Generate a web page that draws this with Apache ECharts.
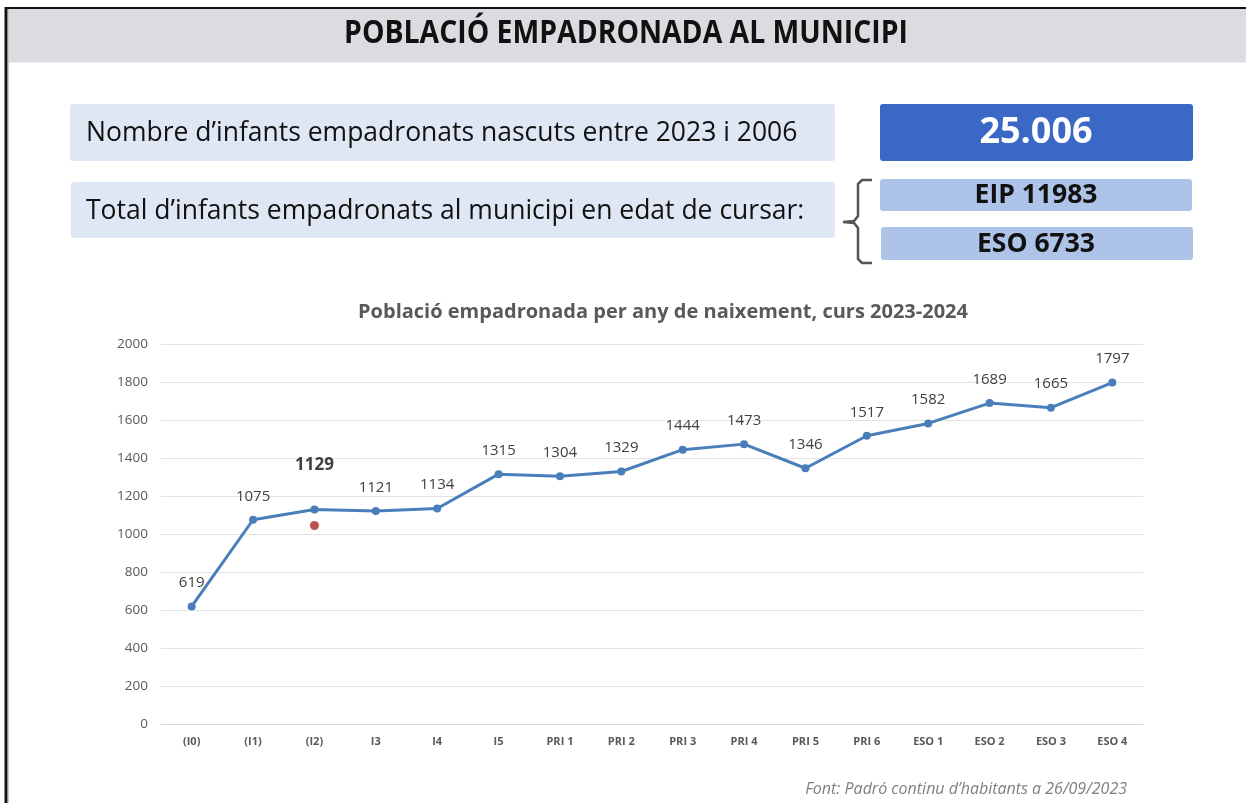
<!DOCTYPE html>
<html>
<head>
<meta charset="utf-8">
<script src="https://cdn.jsdelivr.net/npm/echarts@6/dist/echarts.min.js"></script>
<style>
html,body{margin:0;padding:0;background:#fff;}
#main{width:1246px;height:803px;}
</style>
</head>
<body>
<div id="main"></div>
<script>
var categories = ['(I0)','(I1)','(I2)','I3','I4','I5','PRI 1','PRI 2','PRI 3','PRI 4','PRI 5','PRI 6','ESO 1','ESO 2','ESO 3','ESO 4'];
var population = [619,1075,1129,1121,1134,1315,1304,1329,1444,1473,1346,1517,1582,1689,1665,1797];
var highlightIndex = 2;
var redMarker = [null,null,1045,null,null,null,null,null,null,null,null,null,null,null,null,null];
var yTicks = {min:0, max:2000, interval:200};

var headerTitle = 'POBLACIÓ EMPADRONADA AL MUNICIPI';
var box1Text = 'Nombre d\u2019infants empadronats nascuts entre 2023 i 2006';
var box2Text = 'Total d\u2019infants empadronats al municipi en edat de cursar:';
var totalText = '25.006';
var eipText = 'EIP 11983';
var esoText = 'ESO 6733';
var chartTitle = 'Població empadronada per any de naixement, curs 2023-2024';
var sourceText = 'Font: Padró continu d\u2019habitants a 26/09/2023';

var chart = echarts.init(document.getElementById('main'), null, {renderer:'canvas'});

var lineData = population.map(function(v,i){
  if(i===highlightIndex){
    return {value:v, label:{fontWeight:'bold', fontSize:17, color:'#404040', distance:32}};
  }
  return v;
});

var option = {
  backgroundColor:'#ffffff',
  animation:false,
  title:{
    text:chartTitle,
    left:658, top:297, textAlign:'center',
    textStyle:{fontFamily:'Open Sans', fontWeight:'bold', fontSize:20, color:'#595959'}
  },
  grid:{left:161, right:103, top:344, bottom:79},
  xAxis:{
    type:'category',
    data:categories,
    boundaryGap:true,
    axisLine:{show:true, lineStyle:{color:'#d9d9d9'}},
    axisTick:{show:false},
    axisLabel:{margin:12, fontFamily:'Open Sans', fontWeight:'bold', fontSize:11, color:'#595959'}
  },
  yAxis:{
    type:'value',
    min:yTicks.min, max:yTicks.max, interval:yTicks.interval,
    axisLine:{show:false}, axisTick:{show:false},
    splitLine:{lineStyle:{color:'#e3e3e3', width:1}},
    axisLabel:{margin:13, fontFamily:'Open Sans', fontSize:13.5, color:'#595959', formatter:function(v){return String(v);}}
  },
  series:[
    {
      type:'line',
      data:lineData,
      symbol:'circle', symbolSize:8,
      lineStyle:{color:'#4a7ebb', width:3},
      itemStyle:{color:'#4a7ebb'},
      label:{show:true, position:'top', distance:12, fontFamily:'Open Sans', fontSize:15, color:'#404040'},
      z:3
    },
    {
      type:'line',
      data:redMarker,
      symbol:'circle', symbolSize:9,
      lineStyle:{width:0},
      itemStyle:{color:'#c0504d'},
      z:4
    }
  ],
  graphic:[
    {type:'rect', shape:{x:9, y:9, width:1237, height:53}, style:{fill:'#dadcdf'}, z:0},
    {type:'line', shape:{x1:5, y1:8, x2:1246, y2:8}, style:{stroke:'#111', lineWidth:2}, z:1},
    {type:'line', shape:{x1:6, y1:7, x2:6, y2:803}, style:{stroke:'#111', lineWidth:3}, z:1},
    {type:'line', shape:{x1:8.5, y1:9, x2:8.5, y2:803}, style:{stroke:'#c8c8c8', lineWidth:1}, z:1},
    {type:'line', shape:{x1:9, y1:62.5, x2:1246, y2:62.5}, style:{stroke:'#eceef0', lineWidth:1}, z:1},
    {type:'text', x:626, y:34, scaleX:0.86, style:{text:headerTitle, font:'bold 33px "Open Sans", sans-serif', fill:'#111', textAlign:'center', textVerticalAlign:'middle'}, z:2},
    {type:'rect', shape:{x:70, y:104, width:765, height:57, r:3}, style:{fill:'#dfe6f4'}, z:1},
    {type:'text', x:86, y:133, style:{text:box1Text, font:'26.5px "Open Sans", sans-serif', fill:'#111', textVerticalAlign:'middle'}, z:2},
    {type:'rect', shape:{x:71, y:182, width:764, height:56, r:3}, style:{fill:'#dfe6f4'}, z:1},
    {type:'text', x:86, y:211, style:{text:box2Text, font:'26.5px "Open Sans", sans-serif', fill:'#111', textVerticalAlign:'middle'}, z:2},
    {type:'rect', shape:{x:880, y:104, width:313, height:57, r:3}, style:{fill:'#3a68c4'}, z:1},
    {type:'text', x:1036, y:133, style:{text:totalText, font:'bold 36px "Open Sans", sans-serif', fill:'#ffffff', textAlign:'center', textVerticalAlign:'middle'}, z:2},
    {type:'rect', shape:{x:880, y:179, width:312, height:32, r:3}, style:{fill:'#adc3e8'}, z:1},
    {type:'text', x:1036, y:195.5, style:{text:eipText, font:'bold 26.5px "Open Sans", sans-serif', fill:'#111', textAlign:'center', textVerticalAlign:'middle'}, z:2},
    {type:'rect', shape:{x:881, y:227, width:312, height:33, r:3}, style:{fill:'#adc3e8'}, z:1},
    {type:'text', x:1036, y:244.5, style:{text:esoText, font:'bold 26.5px "Open Sans", sans-serif', fill:'#111', textAlign:'center', textVerticalAlign:'middle'}, z:2},
    {type:'polyline', shape:{points:[[872,180],[862,180],[858,184],[858,216],[854,221],[843,222],[854,223],[858,228],[858,259],[862,263],[872,263]]}, style:{stroke:'#555', lineWidth:2.5, fill:null}, z:2},
    {type:'text', x:1127, y:789, style:{text:sourceText, font:'italic 16px "Open Sans", sans-serif', fill:'#7f7f7f', textAlign:'right', textVerticalAlign:'middle'}, z:2}
  ]
};
chart.setOption(option);
</script>
</body>
</html>
